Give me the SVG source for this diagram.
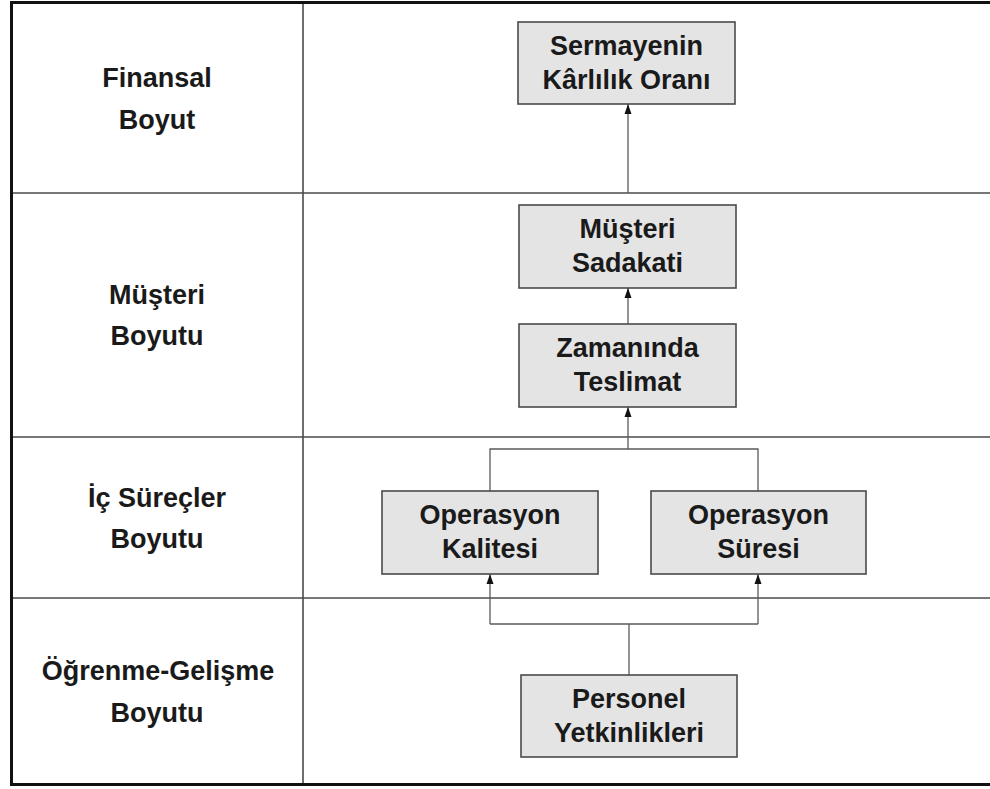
<svg xmlns="http://www.w3.org/2000/svg" width="990" height="789" viewBox="0 0 990 789">
  <style>
    .grid { stroke: #4a4a4a; stroke-width: 1.6; fill: none; }
    .frame { stroke: #111; stroke-width: 3; fill: none; }
    .box { fill: #e4e4e4; stroke: #4a4a4a; stroke-width: 1.6; }
    .link { stroke: #5a5a5a; stroke-width: 1.3; fill: none; }
    text { font-family: "Liberation Sans", Arial, sans-serif; font-weight: bold; font-size: 27px; fill: #1a1a1a; text-anchor: middle; }
  </style>
  <defs>
    <marker id="arrow" markerUnits="userSpaceOnUse" markerWidth="10" markerHeight="8" refX="10" refY="4" orient="auto">
      <path d="M0,0.5 L10,4 L0,7.5 z" fill="#111"/>
    </marker>
  </defs>
  <rect width="990" height="789" fill="#fff"/>

  <!-- table: rows for each perspective -->
  <g id="table">
    <line class="grid" x1="11" y1="193" x2="990" y2="193"/>
    <line class="grid" x1="11" y1="437" x2="990" y2="437"/>
    <line class="grid" x1="11" y1="598" x2="990" y2="598"/>
    <line class="grid" x1="303" y1="2" x2="303" y2="785"/>
    <line class="frame" x1="11" y1="2.5" x2="990" y2="2.5"/>
    <line class="frame" x1="11" y1="784.5" x2="990" y2="784.5"/>
    <line class="frame" x1="11.5" y1="1" x2="11.5" y2="786"/>
  </g>

  <!-- perspective labels -->
  <g id="labels">
    <text x="157" y="87">Finansal</text>
    <text x="157" y="129">Boyut</text>
    <text x="157" y="304">Müşteri</text>
    <text x="157" y="345">Boyutu</text>
    <text x="157" y="507">İç Süreçler</text>
    <text x="157" y="548">Boyutu</text>
    <text x="158" y="680">Öğrenme-Gelişme</text>
    <text x="157" y="722">Boyutu</text>
  </g>

  <!-- connectors -->
  <g id="connectors">
    <path class="link" d="M628,193 L628,104" marker-end="url(#arrow)"/>
    <path class="link" d="M628,324 L628,288" marker-end="url(#arrow)"/>
    <path class="link" d="M628,437 L628,407" marker-end="url(#arrow)"/>
    <path class="link" d="M490,491 L490,449 L758,449 L758,491"/>
    <path class="link" d="M628,437 L628,449"/>
    <path class="link" d="M629,675 L629,624"/>
    <path class="link" d="M490,624 L758,624"/>
    <path class="link" d="M490,624 L490,574" marker-end="url(#arrow)"/>
    <path class="link" d="M758,624 L758,574" marker-end="url(#arrow)"/>
  </g>

  <g id="sermaye-karlilik">
    <rect class="box" x="518" y="22" width="217" height="82"/>
    <text x="626.5" y="55">Sermayenin</text>
    <text x="626.5" y="89">Kârlılık Oranı</text>
  </g>
  <g id="musteri-sadakati">
    <rect class="box" x="519" y="205" width="217" height="83"/>
    <text x="627.5" y="238">Müşteri</text>
    <text x="627.5" y="272">Sadakati</text>
  </g>
  <g id="zamaninda-teslimat">
    <rect class="box" x="519" y="324" width="217" height="83"/>
    <text x="627.5" y="357">Zamanında</text>
    <text x="627.5" y="391">Teslimat</text>
  </g>
  <g id="operasyon-kalitesi">
    <rect class="box" x="382" y="491" width="216" height="83"/>
    <text x="490" y="524">Operasyon</text>
    <text x="490" y="558">Kalitesi</text>
  </g>
  <g id="operasyon-suresi">
    <rect class="box" x="651" y="491" width="215" height="83"/>
    <text x="758.5" y="524">Operasyon</text>
    <text x="758.5" y="558">Süresi</text>
  </g>
  <g id="personel-yetkinlikleri">
    <rect class="box" x="521" y="675" width="216" height="82"/>
    <text x="629" y="708">Personel</text>
    <text x="629" y="742">Yetkinlikleri</text>
  </g>
</svg>
